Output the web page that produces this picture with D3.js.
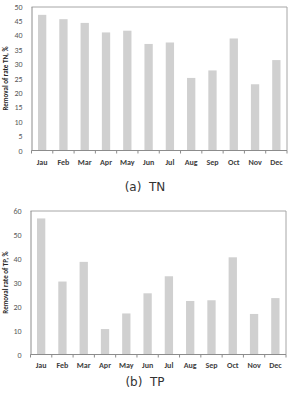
<!DOCTYPE html>
<html>
<head>
<meta charset="utf-8">
<script src="https://cdn.jsdelivr.net/npm/d3@7"></script>
<style>
  body { margin: 0; background: #fff; font-family: "Open Sans", "DejaVu Sans", sans-serif; }
  svg text { font-family: Calibri, Carlito, "Open Sans", sans-serif; }
</style>
</head>
<body>
<svg id="drawing_region"></svg>
<script>
// data
const months = ["Jau","Feb","Mar","Apr","May","Jun","Jul","Aug","Sep","Oct","Nov","Dec"];
const tnRemoval = [47.1, 45.6, 44.3, 41.0, 41.6, 37.0, 37.5, 25.2, 27.8, 38.9, 23.0, 31.4];
const tpRemoval = [56.7, 30.4, 38.6, 10.6, 17.1, 25.5, 32.6, 22.3, 22.6, 40.5, 16.9, 23.5];
const tnTicks = [0, 5, 10, 15, 20, 25, 30, 35, 40, 45, 50];
const tpTicks = [0, 10, 20, 30, 40, 50, 60];

const svg = d3.select('#drawing_region')
    .attr('width', 290)
    .attr('height', 399);

function barPanel(cfg) {
    const g = svg.append('g')
        .attr('transform', `translate(${cfg.left}, ${cfg.top})`);
    const w = cfg.width, h = cfg.height;

    const xscale = d3.scaleBand()
        .domain(months)
        .range([0, w])
        .paddingInner(0.61)
        .paddingOuter(0.305);

    const yscale = d3.scaleLinear()
        .domain([0, cfg.ymax])
        .range([h, 0]);

    // frame (top and right)
    g.append('path')
        .attr('d', `M0,0.5H${w}V${h}`)
        .attr('fill', 'none')
        .attr('stroke', '#a6a6a6')
        .attr('stroke-width', 1);

    g.selectAll('rect.bar')
        .data(cfg.values)
        .join('rect')
        .attr('class', 'bar')
        .attr('x', (d, i) => xscale(months[i]))
        .attr('y', d => yscale(d))
        .attr('width', xscale.bandwidth())
        .attr('height', d => h - yscale(d))
        .attr('fill', '#d0d0d0');

    // x axis with ticks between categories
    const step = xscale.step();
    const xaxis = g.append('g')
        .attr('transform', `translate(0, ${h})`);
    xaxis.append('line')
        .attr('x1', 0).attr('x2', w)
        .attr('stroke', '#8c8c8c');
    xaxis.selectAll('line.tk')
        .data(d3.range(months.length + 1))
        .join('line')
        .attr('class', 'tk')
        .attr('x1', i => i * step).attr('x2', i => i * step)
        .attr('y1', 0).attr('y2', 3)
        .attr('stroke', '#8c8c8c');
    xaxis.selectAll('text')
        .data(months)
        .join('text')
        .attr('x', d => xscale(d) + xscale.bandwidth() / 2)
        .attr('y', cfg.labelY)
        .attr('text-anchor', 'middle')
        .attr('font-size', '8px')
        .attr('font-weight', 'bold')
        .attr('fill', '#404040')
        .text(d => d);

    // y axis
    const yaxis = d3.axisLeft(yscale)
        .tickValues(cfg.ticks)
        .tickSize(0)
        .tickPadding(9);
    const yg = g.append('g').call(yaxis);
    yg.select('.domain').attr('stroke', '#8c8c8c');
    yg.selectAll('text')
        .attr('font-size', '8px')
        .attr('fill', '#595959')
        .style('font-family', 'Calibri, Carlito, "Open Sans", sans-serif');

    g.append('text')
        .attr('transform', 'rotate(-90)')
        .attr('x', -h / 2)
        .attr('y', -cfg.left + 8)
        .attr('text-anchor', 'middle')
        .attr('font-size', '7px')
        .attr('font-weight', 'bold')
        .attr('fill', '#262626')
        .text(cfg.ylabel);

    svg.append('text')
        .attr('x', 145)
        .attr('y', cfg.captionY)
        .attr('text-anchor', 'middle')
        .attr('font-size', '12px')
        .attr('fill', '#333')
        .style('font-family', '"DejaVu Sans", sans-serif')
        .style('white-space', 'pre')
        .text(cfg.caption);
}

barPanel({
    values: tnRemoval, ticks: tnTicks, ymax: 50,
    left: 31.5, top: 6.5, width: 255.5, height: 144,
    labelY: 14.5, ylabel: 'Removal of rate TN, %',
    caption: '(a)  TN', captionY: 191
});

barPanel({
    values: tpRemoval, ticks: tpTicks, ymax: 60,
    left: 30.5, top: 210.5, width: 255.5, height: 144,
    labelY: 13.5, ylabel: 'Removal rate of TP, %',
    caption: '(b)  TP', captionY: 386
});
</script>
</body>
</html>
